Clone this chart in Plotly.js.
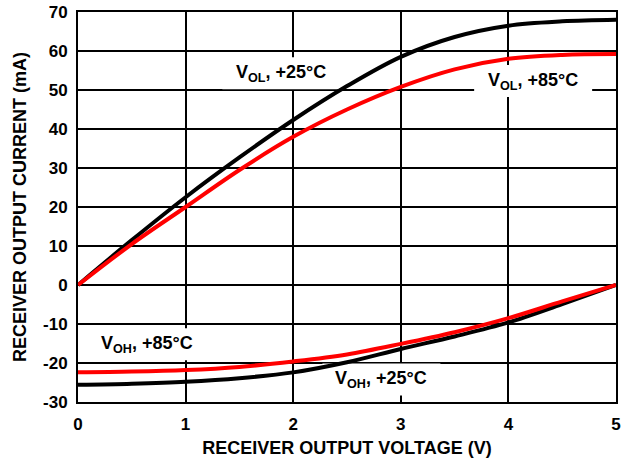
<!DOCTYPE html>
<html>
<head>
<meta charset="utf-8">
<script src="https://cdn.plot.ly/plotly-3.0.1.min.js"></script>
<style>
  html, body { margin: 0; padding: 0; background: #fff; }
  #chart { width: 631px; height: 462px; }
</style>
</head>
<body>
<div id="chart"></div>
<script>
// Receiver output voltage (V)
const voltage = [0, 0.5, 1, 1.5, 2, 2.5, 3, 3.5, 4, 4.5, 5];

// Output current (mA), sinking (VOL) and sourcing (VOH)
const volAt25 = [0, 11.5, 22.5, 32.7, 42.3, 51.0, 58.5, 63.6, 66.5, 67.6, 68];
const volAt85 = [0, 10.5, 20, 29.5, 38, 45.0, 50.8, 55.3, 58, 59, 59.2];
const vohAt25 = [-25.6, -25.3, -24.8, -23.9, -22.4, -19.8, -16.4, -13.2, -9.6, -4.9, 0];
const vohAt85 = [-22.4, -22.2, -21.8, -21.0, -19.6, -17.8, -15.1, -12.1, -8.5, -4.2, 0];

// Curve labels: text, centre x (V), centre y (mA)
const labelText = ['V<sub>OL</sub>, +25°C', 'V<sub>OL</sub>, +85°C', 'V<sub>OH</sub>, +85°C', 'V<sub>OH</sub>, +25°C'];
const labelX = [1.89, 4.23, 0.64, 2.82];
const labelY = [54.3, 52.3, -15.2, -24.2];

const xTicks = [0, 1, 2, 3, 4, 5];
const yTicks = [-30, -20, -10, 0, 10, 20, 30, 40, 50, 60, 70];

const BLACK = '#000000';
const RED = '#ff0000';
const FONT = 'Liberation Sans, Arial, sans-serif';

function curve(y, color) {
  return {
    x: voltage, y: y, type: 'scatter', mode: 'lines',
    line: { color: color, width: 4, shape: 'spline', smoothing: 1 },
    cliponaxis: false, hoverinfo: 'skip'
  };
}

const data = [
  curve(vohAt25, BLACK),
  curve(vohAt85, RED),
  curve(volAt25, BLACK),
  curve(volAt85, RED)
];

// Label text on top of everything
const annotations = labelText.map((t, i) => ({
  x: labelX[i], y: labelY[i], xref: 'x', yref: 'y',
  text: t, showarrow: false,
  font: { family: FONT, size: 18, color: BLACK, weight: 700 }
}));

// White boxes behind each label: they hide the grid but stay under the curves
const shapes = labelX.map((x, i) => ({
  type: 'rect', layer: 'between',
  xref: 'x', yref: 'y',
  xsizemode: 'pixel', ysizemode: 'pixel',
  xanchor: x, yanchor: labelY[i],
  x0: -59, x1: 59, y0: -16, y1: 16,
  fillcolor: '#ffffff', line: { width: 0 }
}));

const axisCommon = {
  showline: true, linecolor: BLACK, linewidth: 2, mirror: true,
  showgrid: true, gridcolor: BLACK, gridwidth: 2,
  zeroline: false, ticks: '',
  tickfont: { family: FONT, size: 17, color: BLACK, weight: 700 },
  fixedrange: true
};

const layout = {
  width: 631, height: 462,
  margin: { l: 78, r: 15, t: 12, b: 60, pad: 0 },
  paper_bgcolor: '#ffffff', plot_bgcolor: '#ffffff',
  showlegend: false,
  xaxis: Object.assign({}, axisCommon, {
    range: [0, 5], tickvals: xTicks, ticktext: xTicks.map(String),
    ticklabelstandoff: 6,
    title: { text: 'RECEIVER OUTPUT VOLTAGE (V)', standoff: 8,
      font: { family: FONT, size: 18, color: BLACK, weight: 700 } }
  }),
  yaxis: Object.assign({}, axisCommon, {
    range: [-30, 70], tickvals: yTicks, ticktext: yTicks.map(String),
    ticklabelstandoff: 5,
    title: { text: 'RECEIVER OUTPUT CURRENT (mA)', standoff: 12,
      font: { family: FONT, size: 18, color: BLACK, weight: 700 } }
  }),
  shapes: shapes,
  annotations: annotations
};

Plotly.newPlot('chart', data, layout, { staticPlot: true, displayModeBar: false });
</script>
</body>
</html>
